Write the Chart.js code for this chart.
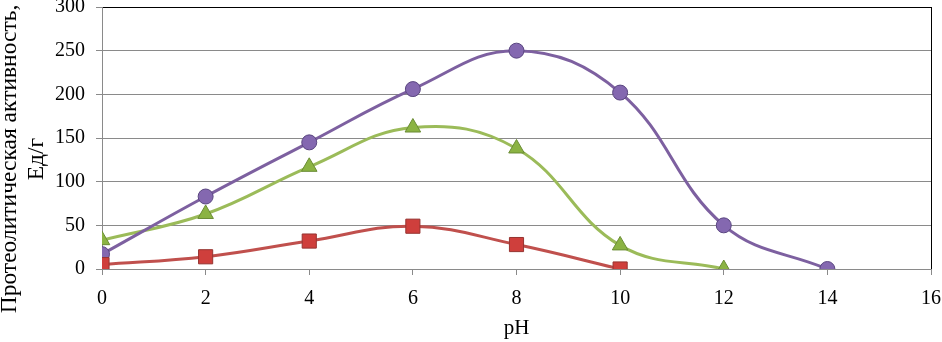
<!DOCTYPE html>
<html>
<head>
<meta charset="utf-8">
<script src="https://cdn.jsdelivr.net/npm/chart.js@4"></script>
<style>
  body { margin: 0; background: #fff; }
  canvas { display: block; }
</style>
</head>
<body>
<canvas id="chart" width="942" height="342"></canvas>
<script>
// pH values for each series
const phPurple = [0, 2, 4, 6, 8, 10, 12, 14];
const phGreen = [0, 2, 4, 6, 8, 10, 12];
const phRed = [0, 2, 4, 6, 8, 10];

// activity, Ед/г
const purpleValues = [17, 83, 145, 206, 250, 202, 50, 0];
const greenValues = [33, 63, 117, 162, 138, 27, 0];
const redValues = [5, 14, 32, 49, 28, 0];

const xTicks = [0, 2, 4, 6, 8, 10, 12, 14, 16];
const yTicks = [0, 50, 100, 150, 200, 250, 300];
const yTitle = ['Протеолитическая активность,', 'Ед/г'];
const xTitle = 'pH';

const toPoints = (xs, ys) => xs.map((x, i) => ({ x: x, y: ys[i] }));

const serif = '"Liberation Serif", "Times New Roman", serif';
const gridGray = '#8a8a8a';

// rotated y title, centred a bit lower than the plot area like the original
const yTitlePlugin = {
    id: 'yTitle',
    afterDraw(chart) {
        const ctx = chart.ctx;
        ctx.save();
        ctx.fillStyle = '#000';
        ctx.font = '23.5px ' + serif;
        ctx.textAlign = 'center';
        ctx.textBaseline = 'alphabetic';
        ctx.translate(0, 159);
        ctx.rotate(-Math.PI / 2);
        ctx.fillText(yTitle[0], 0, 16);
        ctx.fillText(yTitle[1], 0, 43);
        ctx.restore();
    }
};

// let the tick labels hang over the edges instead of shrinking the plot
function noLabelPadding(scale) {
    scale.paddingTop = 0;
    scale.paddingBottom = 0;
    scale.paddingLeft = 0;
    scale.paddingRight = 0;
}

new Chart(document.getElementById('chart').getContext('2d'), {
    type: 'line',
    data: {
        datasets: [
            {
                label: 'red',
                data: toPoints(phRed, redValues),
                borderColor: '#C0504D',
                borderWidth: 3,
                pointStyle: 'rect',
                pointRadius: 10,
                pointBackgroundColor: '#CF3F3C',
                pointBorderColor: '#963431',
                pointBorderWidth: 1,
                tension: 0.4
            },
            {
                label: 'purple',
                data: toPoints(phPurple, purpleValues),
                borderColor: '#7D60A0',
                borderWidth: 3,
                pointStyle: 'circle',
                pointRadius: 7.5,
                pointBackgroundColor: '#8468B0',
                pointBorderColor: '#5A4680',
                pointBorderWidth: 1,
                tension: 0.4
            },
            {
                label: 'green',
                data: toPoints(phGreen, greenValues),
                borderColor: '#9BBB59',
                borderWidth: 3,
                pointStyle: 'triangle',
                pointRadius: 9,
                pointBackgroundColor: '#8BB343',
                pointBorderColor: '#6A8C34',
                pointBorderWidth: 1,
                tension: 0.4
            }
        ]
    },
    options: {
        responsive: false,
        animation: false,
        layout: { autoPadding: false, padding: { top: 7, right: 11, left: 0, bottom: 0 } },
        plugins: {
            legend: { display: false },
            tooltip: { enabled: false }
        },
        scales: {
            x: {
                type: 'linear',
                min: 0,
                max: 16,
                afterBuildTicks: scale => { scale.ticks = xTicks.map(v => ({ value: v })); },
                afterFit: scale => {
                    scale.height = 73;
                    noLabelPadding(scale);
                },
                ticks: {
                    color: '#000',
                    font: { family: serif, size: 20 },
                    padding: 12,
                    maxRotation: 0
                },
                grid: {
                    color: c => c.tick && c.tick.value === 16 ? '#000' : 'rgba(0,0,0,0)',
                    tickColor: gridGray,
                    tickLength: 6
                },
                border: { color: gridGray },
                title: {
                    display: true,
                    text: xTitle,
                    color: '#000',
                    font: { family: serif, size: 21 },
                    padding: { top: 0, bottom: 1 }
                }
            },
            y: {
                min: 0,
                max: 300,
                afterBuildTicks: scale => { scale.ticks = yTicks.map(v => ({ value: v })); },
                afterFit: scale => {
                    scale.width = 102;
                    noLabelPadding(scale);
                },
                ticks: {
                    color: '#000',
                    font: { family: serif, size: 20 },
                    padding: 11
                },
                grid: {
                    color: c => c.tick && c.tick.value === 300 ? '#000' : gridGray,
                    tickColor: gridGray,
                    tickLength: 6
                },
                border: { color: gridGray }
            }
        }
    },
    plugins: [yTitlePlugin]
});
</script>
</body>
</html>
